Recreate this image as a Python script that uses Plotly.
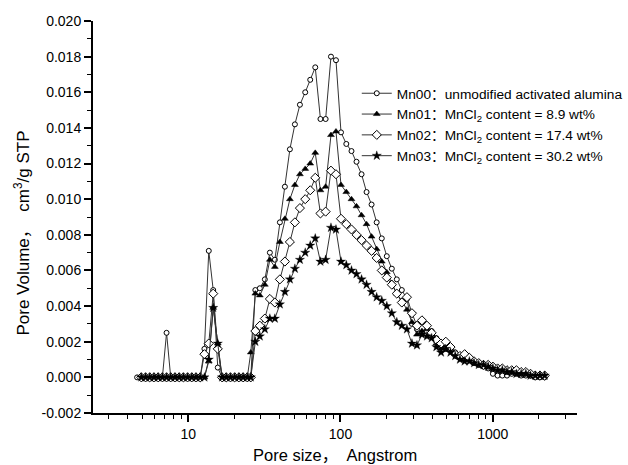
import plotly.graph_objects as go

pore_size = [4.62, 4.92, 5.25, 5.59, 5.96, 6.35, 6.77, 7.21, 7.68, 8.19,
             8.73, 9.30, 9.91, 10.56, 11.25, 11.99, 12.78, 13.65, 14.60, 15.64,
             16.69, 17.78, 18.95, 20.20, 21.53, 22.94, 24.44, 25.77, 27.60, 29.54,
             31.87, 34.38, 37.08, 40.00, 43.15, 46.54, 50.20, 54.15, 58.68, 63.29,
             68.28, 73.86, 79.89, 86.61, 93.42, 100.8, 109.2, 118.1, 127.4, 137.5,
             148.3, 160.0, 172.8, 186.7, 201.4, 217.3, 234.3, 252.8, 273.1, 294.6,
             317.8, 342.7, 369.7, 396.9, 426.2, 457.6, 491.4, 527.7, 566.7, 608.5,
             653.4, 701.8, 753.6, 809.3, 868.9, 933.0, 1002, 1076, 1155, 1240,
             1331, 1430, 1536, 1649, 1770, 1901, 2041, 2192]

mn00 = [0, 0, 0, 0, 0, 0, 0, 0.0025, 0, 0,
        0, 0, 0, 0, 0, 0, 0.0016, 0.0071, 0.0049, 0.00055,
        0, 0, 0, 0, 0, 0, 0, 0, 0.0049, 0.0050,
        0.0055, 0.0070, 0.0066, 0.0087, 0.0107, 0.0128, 0.0142, 0.0153, 0.0160, 0.0167,
        0.0174, 0.0145, 0.0145, 0.0180, 0.0178, 0.01375, 0.0131, 0.0127, 0.0121, 0.0114,
        0.0104, 0.0097, 0.0087, 0.0078, 0.0068, 0.0061, 0.0055, 0.0049, 0.0044, 0.0030,
        0.0027, 0.0025, 0.0029, 0.0026, 0.0022, 0.0017, 0.0016, 0.0017, 0.0014, 0.0011,
        0.0010, 0.0011, 0.0008, 0.0007, 0.0006, 0.0005, 0.0002, 0.0001, 0.0001, 0.0001,
        0.0002, 0.0002, 0.0001, 0.0001, 0.0001, 0.0, 0.0, 0.0]

mn01 = [None, 0, 0, 0, 0, 0, 0, 0, 0, 0,
        0, 0, 0, 0, 0, 0, 0, 0.0009, 0.0039, 0.0019,
        0, 0, 0, 0, 0, 0, 0, 0.0014, 0.0047, 0.0046,
        0.0052, 0.0066, 0.0062, 0.0076, 0.0089, 0.0100, 0.0108, 0.0114, 0.0117, 0.0120,
        0.0126, 0.0105, 0.0107, 0.0136, 0.0138, 0.0108, 0.0104, 0.0100, 0.0096, 0.0091,
        0.0086, 0.0079, 0.0072, 0.0065, 0.0059, 0.0053, 0.0047, 0.0043, 0.0038, 0.0031,
        0.0024, 0.0026, 0.0027, 0.0024, 0.0019, 0.0016, 0.0018, 0.0016, 0.0013, 0.0011,
        0.0011, 0.0010, 0.0009, 0.0008, 0.0007, 0.0006, 0.0006, 0.0005, 0.0005, 0.0004,
        0.0004, 0.0003, 0.0002, 0.0002, 0.0001, 0.0001, 0.0001, 0.0001]

mn02 = [None, 0, 0, 0, 0, 0, 0, 0, 0, 0,
        0, 0, 0, 0, 0, 0, 0.0013, 0.0019, 0.0047, 0.0016,
        0, 0, 0, 0, 0, 0, 0, 0, 0.0026, 0.0029,
        0.0033, 0.0044, 0.0042, 0.0055, 0.0065, 0.0076, 0.0087, 0.0095, 0.0100, 0.0105,
        0.0112, 0.0092, 0.0093, 0.0116, 0.0114, 0.0089, 0.0086, 0.0083, 0.0080, 0.0077,
        0.0074, 0.0071, 0.0067, 0.0060, 0.0056, 0.0052, 0.0047, 0.0042, 0.0045, 0.0036,
        0.0029, 0.0032, 0.0029, 0.0025, 0.0021, 0.0019, 0.0020, 0.0017, 0.0013, 0.0012,
        0.0013, 0.0011, 0.0009, 0.0008, 0.0007, 0.0007, 0.0006, 0.0005, 0.0005, 0.0004,
        0.0004, 0.0004, 0.0003, 0.0003, 0.0002, 0.0001, 0.0001, 0.0001]

mn03 = [None, 0, 0, 0, 0, 0, 0, 0, 0, 0,
        0, 0, 0, 0, 0, 0, 0, 0.0010, 0.0039, 0.0019,
        0, 0, 0, 0, 0, 0, 0, 0, 0.0020, 0.0023,
        0.0027, 0.0033, 0.0033, 0.0041, 0.0048, 0.0055, 0.0061, 0.0066, 0.0070, 0.0074,
        0.0078, 0.0065, 0.0066, 0.0084, 0.0083, 0.0065, 0.0063, 0.0060, 0.0058, 0.0055,
        0.0052, 0.0048, 0.0045, 0.0043, 0.0040, 0.0036, 0.0031, 0.0029, 0.0027, 0.0019,
        0.0018, 0.0024, 0.0023, 0.0022, 0.0017, 0.0014, 0.0016, 0.0014, 0.0012, 0.0010,
        0.0009, 0.0009, 0.0008, 0.0007, 0.0007, 0.0006, 0.0005, 0.0004, 0.0004, 0.0003,
        0.0003, 0.0002, 0.0002, 0.0002, 0.0001, 0.0001, 0.0001, 0.0001]

series_names = ["Mn00：unmodified activated alumina",
                "Mn01：MnCl<sub>2</sub> content = 8.9 wt%",
                "Mn02：MnCl<sub>2</sub> content = 17.4 wt%",
                "Mn03：MnCl<sub>2</sub> content = 30.2 wt%"]

x_major = [10, 100, 1000]
x_major_text = ["10", "100", "1000"]
x_minor = [3, 4, 5, 6, 7, 8, 9, 20, 30, 40, 50, 60, 70, 80, 90,
           200, 300, 400, 500, 600, 700, 800, 900, 2000, 3000]
y_major = [-0.002, 0.000, 0.002, 0.004, 0.006, 0.008, 0.010, 0.012,
           0.014, 0.016, 0.018, 0.020]
y_major_text = ["-0.002", "0.000", "0.002", "0.004", "0.006", "0.008", "0.010",
                "0.012", "0.014", "0.016", "0.018", "0.020"]
y_minor = [-0.001, 0.001, 0.003, 0.005, 0.007, 0.009, 0.011, 0.013,
           0.015, 0.017, 0.019]

styles = [
    dict(symbol="circle", size=5, color="white", line=dict(color="black", width=1)),
    dict(symbol="triangle-up", size=6, color="black", line=dict(color="black", width=0.5)),
    dict(symbol="diamond", size=7, color="white", line=dict(color="black", width=1)),
    dict(symbol="star", size=7, color="black", line=dict(color="black", width=0.3)),
]

fig = go.Figure()
for name, vals, st in zip(series_names, [mn00, mn01, mn02, mn03], styles):
    fig.add_trace(go.Scatter(
        x=pore_size, y=vals, mode="lines+markers", name=name,
        line=dict(color="#333333", width=1),
        marker=st, connectgaps=False,
    ))

FONT = "Liberation Sans, Arial, Noto Sans CJK SC, sans-serif"

fig.update_layout(
    width=628, height=465,
    margin=dict(l=93, r=51, t=21, b=52, autoexpand=False),
    paper_bgcolor="white", plot_bgcolor="white",
    font=dict(family=FONT, size=14, color="black"),
    showlegend=True,
    legend=dict(x=0.545, y=0.855, xanchor="left", yanchor="top",
                bgcolor="rgba(0,0,0,0)", borderwidth=0,
                font=dict(family=FONT, size=13.7, color="black"),
                tracegroupgap=0, itemwidth=30),
    xaxis=dict(type="log", range=[0.375, 3.553],
               tickmode="array", tickvals=x_major, ticktext=x_major_text,
               ticks="outside", ticklen=7, tickwidth=1.5, tickcolor="black",
               showline=True, linecolor="black", linewidth=2,
               showgrid=False, zeroline=False,
               tickfont=dict(family=FONT, size=14, color="black"),
               minor=dict(tickmode="array", tickvals=x_minor, ticks="outside",
                          ticklen=4, tickwidth=1.2, tickcolor="black", showgrid=False)),
    yaxis=dict(range=[-0.002, 0.020],
               tickmode="array", tickvals=y_major, ticktext=y_major_text,
               ticks="outside", ticklen=7, tickwidth=1.5, tickcolor="black",
               showline=True, linecolor="black", linewidth=2,
               showgrid=False, zeroline=False,
               tickfont=dict(family=FONT, size=14, color="black"),
               minor=dict(tickmode="array", tickvals=y_minor, ticks="outside",
                          ticklen=4, tickwidth=1.2, tickcolor="black", showgrid=False)),
    annotations=[
        dict(text="Pore size，  Angstrom", xref="paper", yref="paper",
             x=0.5, y=-0.078, xanchor="center", yanchor="top", showarrow=False,
             font=dict(family=FONT, size=16.5, color="black")),
        dict(text="Pore Volume，  cm<sup>3</sup>/g STP", xref="paper", yref="paper",
             x=-0.147, y=0.46, xanchor="center", yanchor="middle", showarrow=False,
             textangle=-90, font=dict(family=FONT, size=17, color="black")),
    ],
)

fig.write_html("out.html", config={"displayModeBar": False},
               post_script="document.body.style.margin='0';document.body.style.padding='0';")
